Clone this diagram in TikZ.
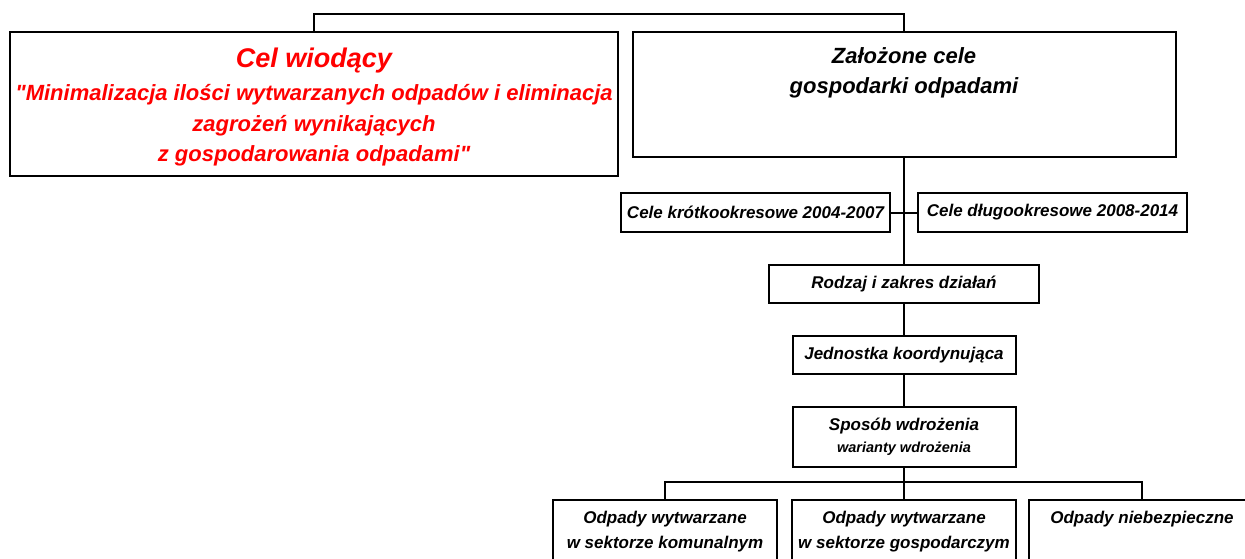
\documentclass[tikz,border=0pt]{standalone}
\usepackage{fontspec}
\setmainfont{Liberation Sans}[Ligatures=TeXOff]
\begin{document}
\begin{tikzpicture}[x=1pt,y=-1pt,line width=2pt,
  box/.style={draw=black,line width=2pt,inner sep=0pt,align=center,font=\bfseries\itshape\fontsize{17}{25}\selectfont},
  txt/.style={inner sep=0pt,align=center,font=\bfseries\itshape\fontsize{17}{25}\selectfont}]
\useasboundingbox (0,0) rectangle (1245,558);
% top level
\node[box,minimum width=608pt,minimum height=144pt] (cel) at (314,104) {};
\node[txt,text=red,font=\bfseries\itshape\fontsize{22}{30.5}\selectfont] (celT) at (314,107)
  {{\fontsize{27}{30}\selectfont Cel wiodący}\\[3pt]
   "Minimalizacja ilości wytwarzanych odpadów i eliminacja\\
   zagrożeń wynikających\\
   z gospodarowania odpadami"};
\node[box,minimum width=543pt,minimum height=125pt] (zal) at (904,94.5) {};
\node[txt,font=\bfseries\itshape\fontsize{22}{30}\selectfont] (zalT) at (904,73) {Założone cele\\gospodarki odpadami};
% second level
\node[box,minimum width=269pt,minimum height=39pt] (ck) at (755.5,212.5) {Cele krótkookresowe 2004-2007};
\node[box,minimum width=269pt,minimum height=39pt] (cd) at (1052.5,212.5) {Cele długookresowe 2008-2014};
\node[box,minimum width=270pt,minimum height=38pt] (rod) at (904,284) {Rodzaj i zakres działań};
\node[box,minimum width=223pt,minimum height=38pt] (jed) at (904,355) {Jednostka koordynująca};
\node[box,minimum width=223pt,minimum height=60pt] (spo) at (904,437)
  {Sposób wdrożenia\\[-3pt]{\fontsize{14.5}{18}\selectfont warianty wdrożenia}};
% bottom level
\node[box,minimum width=224pt,minimum height=65pt] (b1) at (665,532.5) {};
\node[box,minimum width=224pt,minimum height=65pt] (b2) at (904,532.5) {};
\node[box,minimum width=226pt,minimum height=65pt] (b3) at (1142,532.5) {};
\node[txt] (b1T) at (665,531.5) {Odpady wytwarzane\\w sektorze komunalnym};
\node[txt] (b2T) at (904,531.5) {Odpady wytwarzane\\w sektorze gospodarczym};
\node[txt] (b3T) at (1142,519) {Odpady niebezpieczne};
% connectors
\draw (cel.north) -- ++(0,-17) -| (zal.north);
\draw (zal.south) -- (rod.north);
\draw (ck.east) -- (cd.west);
\draw (rod.south) -- (jed.north);
\draw (jed.south) -- (spo.north);
\draw (spo.south) -- (b2.north);
\draw (b1.north) -- ++(0,-17) -| (b3.north);
\end{tikzpicture}
\end{document}
